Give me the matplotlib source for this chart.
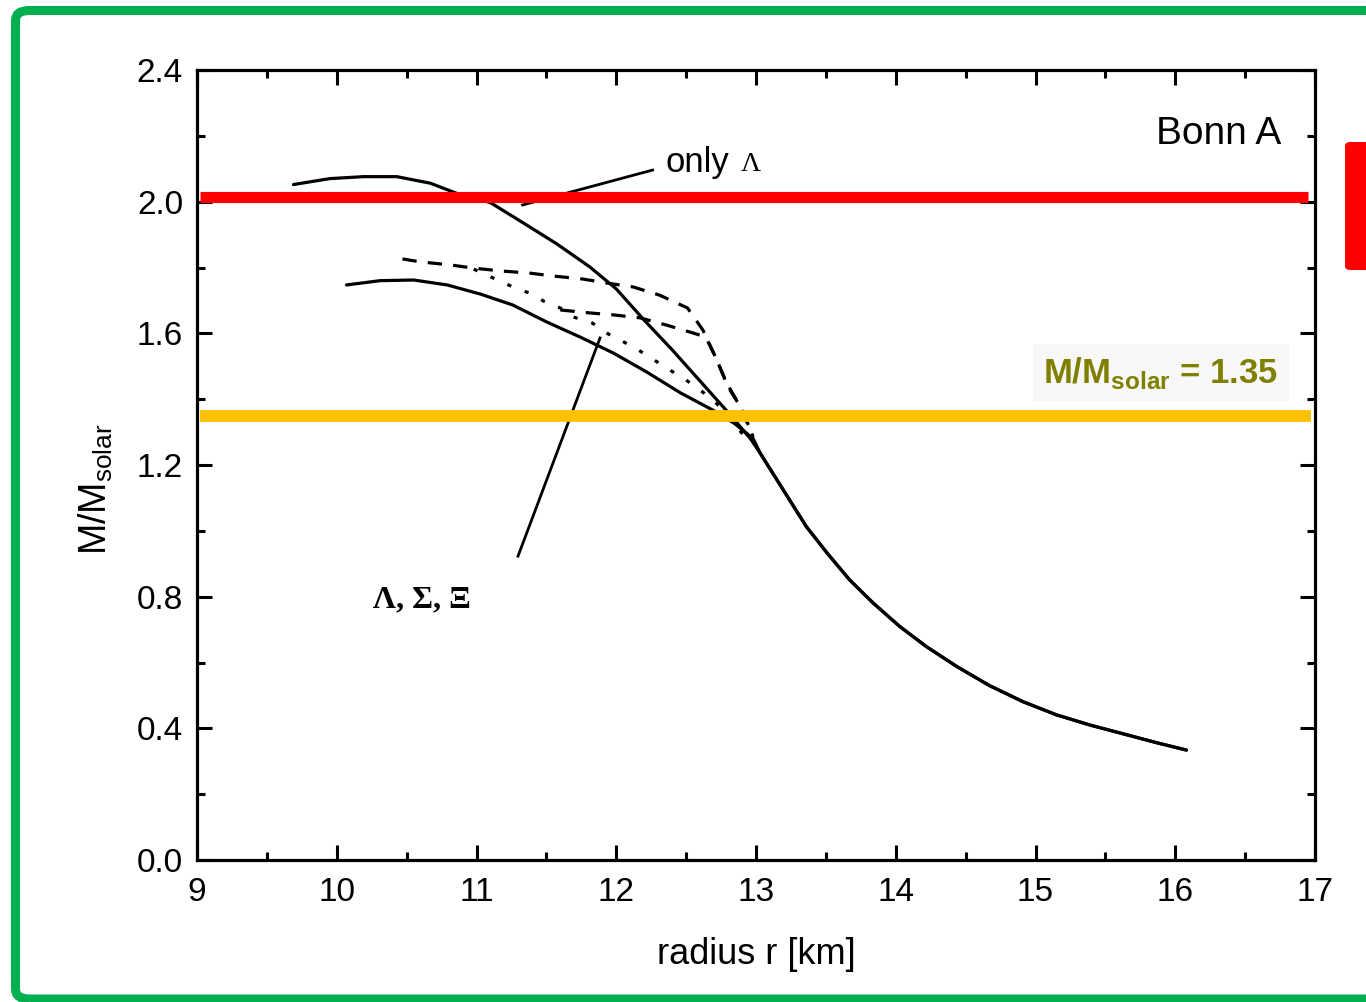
import matplotlib
matplotlib.use("Agg")
import matplotlib.pyplot as plt
from matplotlib.patches import FancyBboxPatch
import numpy as np

plt.rcParams['font.family'] = ['Liberation Sans', 'DejaVu Sans']

# ---- data (radius in km, mass in solar masses) ----
tail_r = [13.03, 13.12, 13.24, 13.36, 13.51, 13.67, 13.84, 14.03, 14.22, 14.44,
          14.67, 14.91, 15.15, 15.39, 15.63, 15.87, 16.08]
tail_m = [1.236, 1.175, 1.094, 1.013, 0.932, 0.851, 0.780, 0.709, 0.648, 0.587,
          0.530, 0.481, 0.441, 0.410, 0.383, 0.356, 0.334]

only_lambda_r = [9.69, 9.95, 10.19, 10.43, 10.67, 10.86, 11.10, 11.34, 11.57, 11.81,
                 12.00, 12.20, 12.40, 12.60, 12.80, 12.96]
only_lambda_m = [2.052, 2.070, 2.076, 2.076, 2.056, 2.025, 1.997, 1.934, 1.873, 1.802,
                 1.735, 1.640, 1.550, 1.455, 1.360, 1.280]

all_hyp_r = [10.07, 10.31, 10.55, 10.79, 11.03, 11.26, 11.50, 11.74, 11.98, 12.22,
             12.46, 12.69, 12.85, 12.98]
all_hyp_m = [1.747, 1.760, 1.762, 1.747, 1.719, 1.686, 1.635, 1.589, 1.540, 1.482,
             1.419, 1.367, 1.325, 1.280]

dash1_r = [10.47, 10.60, 10.81, 10.98, 11.19, 11.38, 11.55, 11.76, 11.93, 12.12,
           12.31, 12.51, 12.62, 12.72, 12.80, 12.89, 12.97]
dash1_m = [1.826, 1.817, 1.808, 1.798, 1.789, 1.783, 1.774, 1.765, 1.753, 1.741,
           1.716, 1.677, 1.610, 1.519, 1.437, 1.376, 1.297]

dot_r = [10.98, 11.15, 11.26, 11.38, 11.48, 11.60, 11.69, 11.83, 11.93, 12.04,
         12.16, 12.26, 12.37, 12.49, 12.60, 12.71, 12.85, 12.97]
dot_m = [1.795, 1.762, 1.741, 1.722, 1.698, 1.677, 1.650, 1.631, 1.601, 1.577,
         1.549, 1.522, 1.492, 1.461, 1.428, 1.391, 1.321, 1.261]

dash2_r = [11.60, 11.81, 11.98, 12.17, 12.36, 12.55, 12.64, 12.71, 12.79, 12.89, 12.98]
dash2_m = [1.671, 1.662, 1.656, 1.647, 1.625, 1.601, 1.589, 1.528, 1.449, 1.376, 1.285]

limit_red = 2.015
limit_orange = 1.35

x_ticks = [9, 10, 11, 12, 13, 14, 15, 16, 17]
y_ticks = [0.0, 0.4, 0.8, 1.2, 1.6, 2.0, 2.4]
y_ticklabels = ['0.0', '0.4', '0.8', '1.2', '1.6', '2.0', '2.4']

W, H = 1366, 1002
fig = plt.figure(figsize=(W / 100, H / 100), dpi=100)
fig.patch.set_facecolor('white')

# green frame
frame = FancyBboxPatch((15.5 / W, 3 / H), (W + 40) / W, (H - 13.5) / H,
                       boxstyle="round,pad=0,rounding_size=0.01",
                       transform=fig.transFigure, fill=False,
                       edgecolor='#00B050', linewidth=6.5, clip_on=False)
fig.patches.append(frame)
# red tab at right
tab = FancyBboxPatch((1345 / W, (H - 270) / H), 40 / W, 128 / H,
                     boxstyle="round,pad=0,rounding_size=0.004",
                     transform=fig.transFigure, facecolor='#FF0000',
                     edgecolor='none', clip_on=False)
fig.patches.append(tab)

ax = fig.add_axes([197 / W, 142 / H, (1315 - 197) / W, (860 - 70) / H])
ax.set_xlim(9, 17)
ax.set_ylim(0, 2.4)

def join(br, bm):
    return np.array(br + tail_r), np.array(bm + tail_m)

lw = 2.3
r, m = join(only_lambda_r, only_lambda_m)
ax.plot(r, m, color='black', lw=lw, solid_capstyle='round', solid_joinstyle='round')
r, m = join(all_hyp_r, all_hyp_m)
ax.plot(r, m, color='black', lw=lw, solid_capstyle='round', solid_joinstyle='round')
ax.plot(dash1_r, dash1_m, color='black', lw=lw, dashes=(4.5, 3.5))
ax.plot(dot_r, dot_m, color='black', lw=lw, dashes=(1.3, 4.5))
ax.plot(dash2_r, dash2_m, color='black', lw=lw, dashes=(4.5, 3.5))

# leader lines
ax.plot([11.33, 12.26], [1.99, 2.096], color='black', lw=2)
ax.plot([11.297, 11.884], [0.923, 1.586], color='black', lw=2)

# horizontal limits
ax.plot([9.02, 16.95], [limit_red, limit_red], color='#FF0000', lw=8, solid_capstyle='butt', zorder=5)
ax.plot([9.02, 16.97], [limit_orange, limit_orange], color='#FFC000', lw=8.5, solid_capstyle='butt', zorder=5)

# texts
ax.text(12.35, 2.12, 'only', fontsize=25, va='center', ha='left')
ax.text(12.89, 2.112, 'Λ', fontsize=20, va='center', ha='left',
        family=['Liberation Serif', 'DejaVu Serif'])
ax.text(10.26, 0.79, 'Λ, Σ, Ξ', fontsize=23, va='center', ha='left',
        family=['Liberation Serif', 'DejaVu Serif'], fontweight='bold')
ax.text(16.76, 2.205, 'Bonn A', fontsize=28, va='center', ha='right')
ax.text(16.74, 1.48, r'M/M$_\mathregular{solar}$ = 1.35', fontsize=25, va='center',
        ha='right', color='#7F7F00', fontweight='bold',
        bbox=dict(boxstyle='square,pad=0.3', facecolor='#F8F8F8', edgecolor='none'))

# axes styling
for s in ax.spines.values():
    s.set_linewidth(2.3)
ax.set_xticks(x_ticks)
ax.set_yticks(y_ticks)
ax.set_yticklabels(y_ticklabels)
ax.set_xticks(np.arange(9.5, 17, 1.0), minor=True)
ax.set_yticks(np.arange(0.2, 2.4, 0.4), minor=True)
ax.tick_params(which='both', direction='in', top=True, right=True, width=2.2)
ax.tick_params(which='major', length=11, labelsize=24, pad=12)
ax.tick_params(which='minor', length=6)
ax.tick_params(axis='y', pad=10)

ax.set_xlabel('radius r [km]', fontsize=26, labelpad=21)
ax.set_ylabel(r'M/M$_\mathregular{solar}$', fontsize=27)
ax.yaxis.set_label_coords(-0.073, 0.47)

fig.savefig('out.png', dpi=100, facecolor='white')
